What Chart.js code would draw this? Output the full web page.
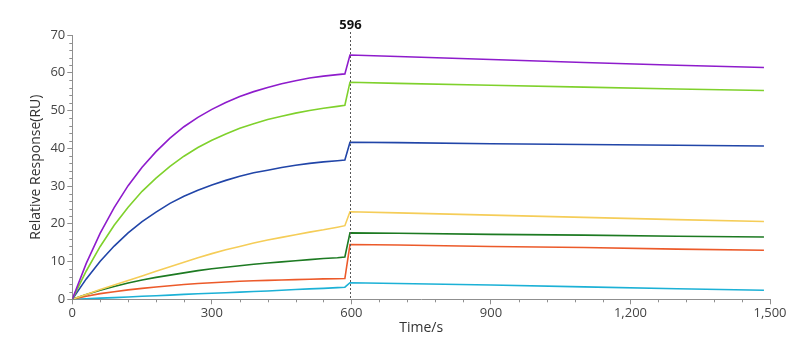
<!DOCTYPE html>
<html>
<head>
<meta charset="utf-8">
<script src="https://cdn.jsdelivr.net/npm/chart.js@4"></script>
<style>
	html, body { margin: 0; padding: 0; background: #fff; }
	#wrap { width: 809px; height: 352px; }
</style>
</head>
<body>
<div id="wrap"><canvas id="chart" width="809" height="352"></canvas></div>
<script>
// association sampled every 30 s, then injection end and dissociation
const times = [ 0, 30, 60, 90, 120, 150, 180, 210, 240, 270, 300, 330, 360, 390, 420, 450, 480, 510, 540, 570, 586,
	597, 700, 900, 1100, 1300, 1487 ];

const purple = [ 0, 9.5, 17.5, 24.3, 30.1, 35.0, 39.1, 42.7, 45.7, 48.2, 50.3, 52.1, 53.7, 55.0, 56.1, 57.1, 57.9, 58.6, 59.1, 59.5, 59.7,
	64.7, 64.3, 63.5, 62.7, 62.0, 61.4 ];
const lime = [ 0, 7.5, 14.0, 19.6, 24.4, 28.6, 32.1, 35.2, 37.9, 40.2, 42.1, 43.8, 45.3, 46.5, 47.6, 48.5, 49.3, 50.0, 50.6, 51.1, 51.4,
	57.5, 57.2, 56.7, 56.2, 55.7, 55.3 ];
const blue = [ 0, 5.4, 10.1, 14.1, 17.6, 20.6, 23.1, 25.4, 27.3, 28.9, 30.3, 31.5, 32.6, 33.5, 34.2, 34.9, 35.5, 36.0, 36.4, 36.7, 36.9,
	41.6, 41.5, 41.2, 41.0, 40.8, 40.6 ];
const yellow = [ 0, 1.3, 2.6, 3.8, 5.0, 6.2, 7.4, 8.6, 9.8, 11.0, 12.1, 13.1, 14.0, 14.9, 15.7, 16.4, 17.1, 17.8, 18.4, 19.1, 19.5,
	23.2, 22.9, 22.3, 21.7, 21.1, 20.6 ];
const darkGreen = [ 0, 1.3, 2.4, 3.4, 4.3, 5.1, 5.8, 6.4, 7.0, 7.6, 8.1, 8.5, 8.9, 9.3, 9.6, 9.9, 10.2, 10.5, 10.8, 11.0, 11.2,
	17.6, 17.5, 17.2, 17.0, 16.7, 16.5 ];
const orange = [ 0, 0.8, 1.5, 2.0, 2.5, 2.9, 3.25, 3.6, 3.9, 4.2, 4.4, 4.6, 4.8, 4.9, 5.0, 5.1, 5.2, 5.3, 5.4, 5.45, 5.5,
	14.5, 14.4, 14.0, 13.7, 13.3, 13.0 ];
const cyan = [ 0, 0.15, 0.3, 0.45, 0.6, 0.8, 0.95, 1.1, 1.3, 1.45, 1.6, 1.75, 1.9, 2.05, 2.2, 2.4, 2.6, 2.75, 2.9, 3.1, 3.2,
	4.4, 4.2, 3.8, 3.3, 2.8, 2.4 ];

const injectionEnd = 596;

(function () {
	'use strict';

	const font = 'Open Sans';
	const axisColor = '#8f8f8f';

	const series = [
		{ values: purple, color: '#8e1ccc' },
		{ values: lime, color: '#7fd12c' },
		{ values: blue, color: '#2145a8' },
		{ values: yellow, color: '#f5cd58' },
		{ values: darkGreen, color: '#1d7a22' },
		{ values: orange, color: '#ec5a2a' },
		{ values: cyan, color: '#1cb1d6' }
	];

	// minor ticks, the dashed marker and its label
	const extras = {
		id: 'extras',
		afterDraw: ( chart ) => {
			const ctx = chart.ctx,
				x = chart.scales.x,
				y = chart.scales.y,
				area = chart.chartArea;

			ctx.save();
			ctx.strokeStyle = axisColor;
			ctx.lineWidth = 1;
			ctx.beginPath();
			for ( let t = 60; t < 1500; t += 60 ) {
				if ( t % 300 === 0 ) continue;
				const px = Math.round( x.getPixelForValue( t ) ) + 0.5;
				ctx.moveTo( px, area.bottom );
				ctx.lineTo( px, area.bottom + 3 );
			}
			for ( let v = 2; v < 70; v += 2 ) {
				if ( v % 10 === 0 ) continue;
				const py = Math.round( y.getPixelForValue( v ) ) + 0.5;
				ctx.moveTo( area.left, py );
				ctx.lineTo( area.left - 3, py );
			}
			ctx.stroke();

			const mx = Math.round( x.getPixelForValue( injectionEnd ) ) + 0.5;
			ctx.strokeStyle = '#555';
			ctx.setLineDash( [ 2, 2 ] );
			ctx.beginPath();
			ctx.moveTo( mx, area.top - 3 );
			ctx.lineTo( mx, area.bottom );
			ctx.stroke();

			ctx.setLineDash( [] );
			ctx.fillStyle = '#111';
			ctx.font = 'bold 13px "' + font + '"';
			ctx.textAlign = 'center';
			ctx.textBaseline = 'middle';
			ctx.fillText( String( injectionEnd ), mx, 25 );
			ctx.restore();
		}
	};

	new Chart( document.getElementById( 'chart' ), {
		type: 'line',
		data: {
			datasets: series.map( s => ( {
				data: times.map( ( t, i ) => ( { x: t, y: s.values[ i ] } ) ),
				borderColor: s.color,
				borderWidth: 1.6,
				pointRadius: 0,
				tension: 0,
				fill: false
			} ) )
		},
		options: {
			responsive: false,
			animation: false,
			events: [],
			layout: {
				padding: { left: 0, right: 39, top: 35, bottom: 0 }
			},
			plugins: {
				legend: { display: false },
				tooltip: { enabled: false }
			},
			scales: {
				x: {
					type: 'linear',
					min: 0,
					max: 1500,
					border: { display: true, color: axisColor },
					grid: {
						drawOnChartArea: false,
						drawTicks: true,
						tickLength: 5,
						color: axisColor
					},
					ticks: {
						stepSize: 300,
						padding: 1,
						color: '#444',
						font: { family: font, size: 13 },
						maxRotation: 0
					},
					title: {
						display: true,
						text: 'Time/s',
						color: '#333',
						font: { family: font, size: 14 },
						padding: { top: 0, bottom: 16 }
					},
					afterFit: ( scale ) => {
						scale.height = 52.7;
					}
				},
				y: {
					min: 0,
					max: 70,
					border: { display: true, color: axisColor },
					grid: {
						drawOnChartArea: false,
						drawTicks: true,
						tickLength: 5,
						color: axisColor
					},
					ticks: {
						stepSize: 10,
						padding: 2,
						color: '#444',
						font: { family: font, size: 13 }
					},
					title: {
						display: true,
						text: 'Relative Response(RU)',
						color: '#333',
						font: { family: font, size: 14 },
						padding: { top: 28, bottom: 0 }
					},
					afterFit: ( scale ) => {
						scale.width = 72.3;
					}
				}
			}
		},
		plugins: [ extras ]
	} );
})();
</script>
</body>
</html>
